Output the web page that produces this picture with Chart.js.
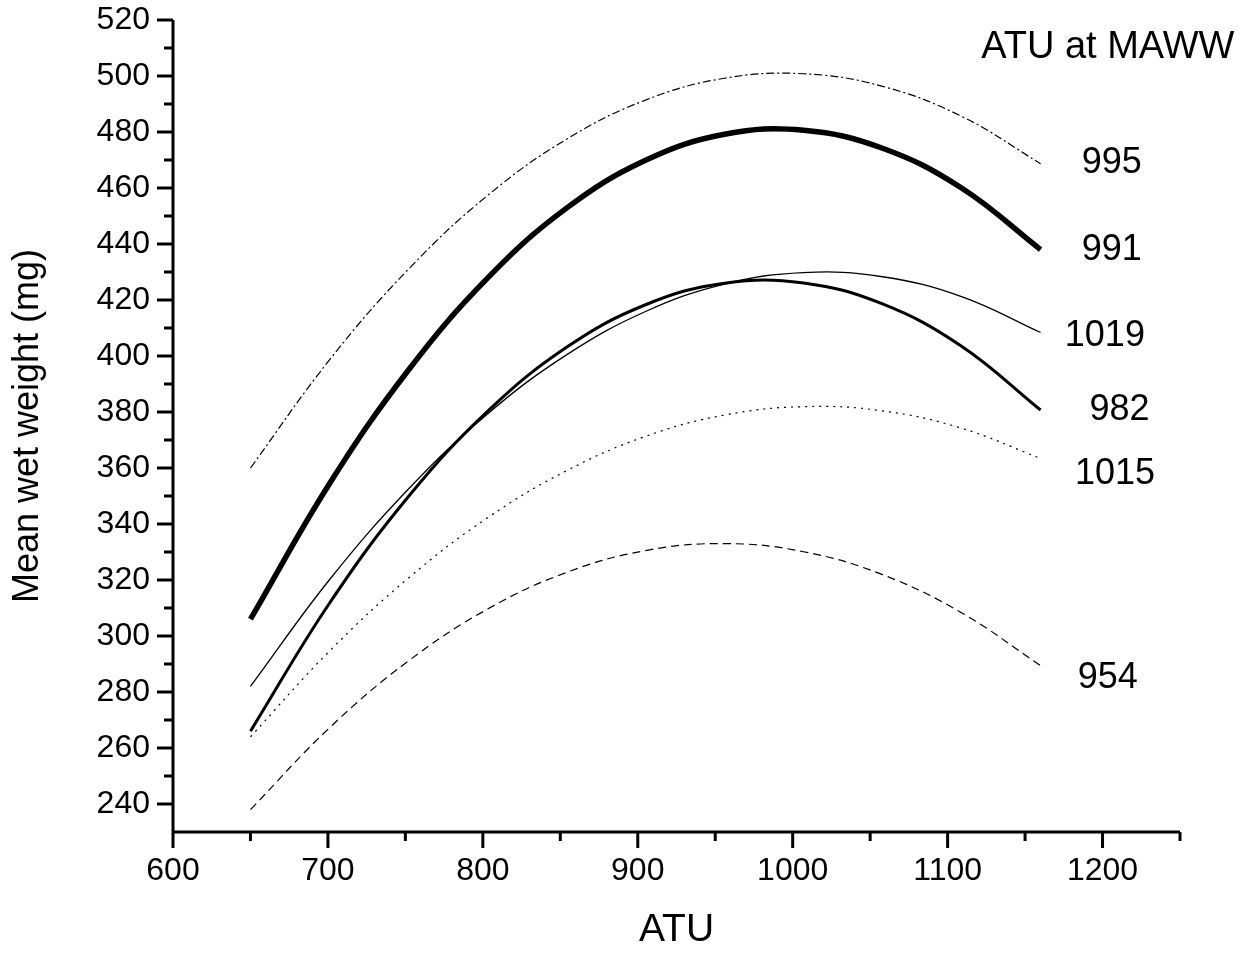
<!DOCTYPE html>
<html lang="en">

<head>
    <meta charset="UTF-8">
    <title>Mean wet weight vs ATU</title>
    <script src="https://cdn.jsdelivr.net/npm/chart.js"></script>
    <style>
        body { margin: 0; background: #fff; }
    </style>
</head>

<body>
    <canvas id="atuChart" width="1257" height="953"></canvas>

    <script>
        const atu = [650, 701, 752, 803, 854, 905, 956, 1007, 1058, 1109, 1160];

        // mean wet weight (mg) per curve, named by ATU at MAWW
        const w995 = [360.0, 398.6, 431.0, 457.3, 477.4, 491.4, 499.2, 500.8, 496.3, 485.6, 468.7];
        const w991 = [306.0, 354.4, 395.0, 427.8, 452.8, 469.9, 479.2, 480.6, 474.2, 460.0, 438.0];
        const w1019 = [282.0, 320.1, 352.5, 379.3, 400.4, 415.9, 425.7, 429.8, 428.3, 421.2, 408.4];
        const w982 = [266.0, 311.7, 349.8, 380.2, 403.1, 418.3, 426.0, 426.1, 418.6, 403.5, 380.7];
        const w1015 = [264.0, 294.6, 320.7, 342.2, 359.0, 371.3, 378.9, 381.9, 380.4, 374.2, 363.4];
        const w954 = [238.0, 267.2, 291.1, 309.6, 322.7, 330.5, 333.0, 330.1, 321.9, 308.3, 289.4];

        const curveNames = ['995', '991', '1019', '982', '1015', '954'];

        // tick values
        const xMajor = [600, 700, 800, 900, 1000, 1100, 1200];
        const xMinor = [650, 750, 850, 950, 1050, 1150, 1250];
        const yMajor = [240, 260, 280, 300, 320, 340, 360, 380, 400, 420, 440, 460, 480, 500, 520];
        const yMinor = [250, 270, 290, 310, 330, 350, 370, 390, 410, 430, 450, 470, 490, 510];

        // where the curve names sit (data units)
        const nameX = [1206, 1206, 1201.5, 1211, 1208, 1203.4];
        const nameY = [468.9, 437.8, 407, 380.6, 357.7, 285.1];
        const headerPos = [1203.4, 510.3];

        const FONT = "'Liberation Sans', Arial, sans-serif";

        function toPoints(ys) {
            return atu.map((x, i) => ({ x: x, y: ys[i] }));
        }

        const axesPlugin = {
            id: 'originAxes',
            afterDraw(chart) {
                const c = chart.ctx;
                const xs = chart.scales.x;
                const ys = chart.scales.y;
                const a = chart.chartArea;
                c.save();
                c.strokeStyle = '#000';
                c.lineWidth = 3;
                c.lineCap = 'butt';
                c.beginPath();
                c.moveTo(a.left, a.top);
                c.lineTo(a.left, a.bottom + 1.5);
                c.moveTo(a.left - 1.5, a.bottom);
                c.lineTo(a.right, a.bottom);
                xMajor.forEach(v => {
                    const px = xs.getPixelForValue(v);
                    c.moveTo(px, a.bottom);
                    c.lineTo(px, a.bottom + 16);
                });
                xMinor.forEach(v => {
                    const px = xs.getPixelForValue(v);
                    c.moveTo(px, a.bottom);
                    c.lineTo(px, a.bottom + 9);
                });
                yMajor.forEach(v => {
                    const py = ys.getPixelForValue(v);
                    c.moveTo(a.left, py);
                    c.lineTo(a.left - 16, py);
                });
                yMinor.forEach(v => {
                    const py = ys.getPixelForValue(v);
                    c.moveTo(a.left, py);
                    c.lineTo(a.left - 9, py);
                });
                c.stroke();

                // curve names and header
                c.fillStyle = '#000';
                c.textAlign = 'center';
                c.textBaseline = 'middle';
                c.font = '36px ' + FONT;
                curveNames.forEach((t, i) => {
                    c.fillText(t, xs.getPixelForValue(nameX[i]), ys.getPixelForValue(nameY[i]));
                });
                c.font = '38px ' + FONT;
                c.fillText('ATU at MAWW', xs.getPixelForValue(headerPos[0]), ys.getPixelForValue(headerPos[1]));
                c.restore();
            }
        };

        Chart.defaults.color = '#000';
        Chart.defaults.font.family = FONT;

        const ctx = document.getElementById('atuChart');
        const chart = new Chart(ctx, {
            type: 'line',
            data: {
                datasets: [
                    { data: toPoints(w995), borderWidth: 1.2, borderDash: [8, 3, 2, 3] },
                    { data: toPoints(w991), borderWidth: 5.5 },
                    { data: toPoints(w1019), borderWidth: 1.3 },
                    { data: toPoints(w982), borderWidth: 3 },
                    { data: toPoints(w1015), borderWidth: 1.2, borderDash: [2, 5] },
                    { data: toPoints(w954), borderWidth: 1.2, borderDash: [8, 5] }
                ].map(d => Object.assign({
                    borderColor: '#000',
                    pointRadius: 0,
                    tension: 0.4,
                    fill: false
                }, d))
            },
            options: {
                responsive: false,
                animation: false,
                layout: {
                    padding: { top: 20, right: 77, left: 0, bottom: 0 }
                },
                plugins: {
                    legend: { display: false },
                    tooltip: { enabled: false }
                },
                scales: {
                    x: {
                        type: 'linear',
                        min: 600,
                        max: 1250,
                        grid: { display: false, drawTicks: false },
                        border: { display: false },
                        ticks: { font: { size: 32 }, padding: 20, maxRotation: 0, callback: (v) => String(v) },
                        afterBuildTicks: (scale) => { scale.ticks = xMajor.map(v => ({ value: v })); },
                        afterFit: (scale) => {
                            scale.height = 121;
                            scale.paddingLeft = 0;
                            scale.paddingRight = 0;
                        },
                        title: {
                            display: true,
                            text: 'ATU',
                            font: { size: 39, lineHeight: 1 },
                            padding: { top: 0, bottom: 3 }
                        }
                    },
                    y: {
                        min: 230,
                        max: 520,
                        grid: { display: false, drawTicks: false },
                        border: { display: false },
                        ticks: { font: { size: 32 }, padding: 23 },
                        afterBuildTicks: (scale) => { scale.ticks = yMajor.map(v => ({ value: v })); },
                        afterFit: (scale) => {
                            scale.width = 173;
                            scale.paddingTop = 0;
                            scale.paddingBottom = 0;
                        },
                        title: {
                            display: true,
                            text: 'Mean wet weight (mg)',
                            font: { size: 36, lineHeight: 1 },
                            padding: { top: 10, bottom: 0 }
                        }
                    }
                }
            },
            plugins: [axesPlugin]
        });
    </script>
</body>

</html>
